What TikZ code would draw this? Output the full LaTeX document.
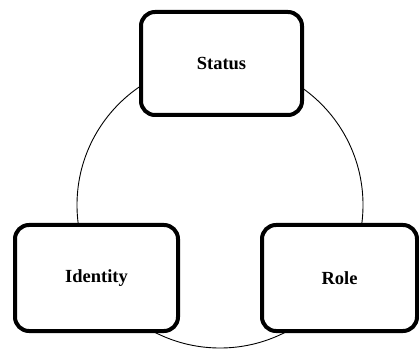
\documentclass[tikz,border=0pt]{standalone}
\usepackage{fontspec}
\setmainfont{Liberation Serif}
\tikzset{
  conceptbox/.style={draw,fill=white,line width=4pt,rounded corners=14pt,
    minimum width=161pt,minimum height=103pt,inner sep=0pt,
    font=\fontsize{18.5}{20}\selectfont\bfseries}
}
\begin{document}
\begin{tikzpicture}[x=1pt,y=1pt]
                \useasboundingbox (0,0) rectangle (419,350);
                \coordinate (centre) at (220,145);
                \draw[line width=0.9pt] (centre) circle [radius=143];

                \node[conceptbox] (status) at (221.5,286.5) {Status};
                \node[conceptbox,minimum width=163pt,minimum height=106pt] (identity) at (96.5,72) {Identity};
                \node[conceptbox,minimum width=155pt,minimum height=106pt] (role) at (339.5,72) {Role};
            \end{tikzpicture}
\end{document}
